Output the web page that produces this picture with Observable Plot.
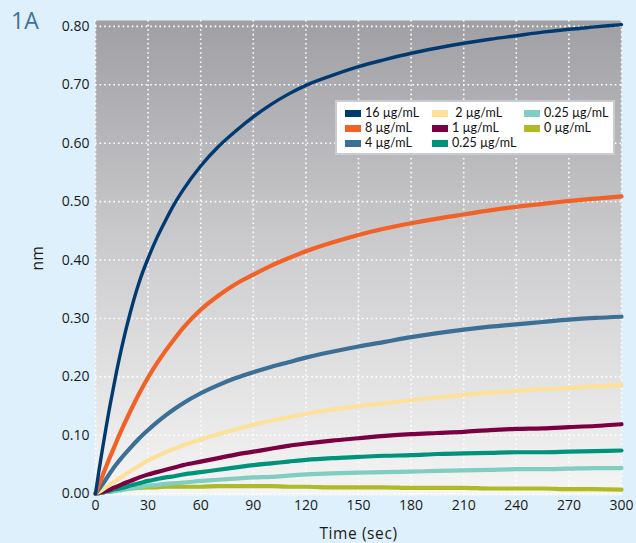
<!DOCTYPE html>
<html>
<head>
<meta charset="utf-8">
<script src="https://cdn.jsdelivr.net/npm/d3@7"></script>
<script src="https://cdn.jsdelivr.net/npm/@observablehq/plot@0.6"></script>
<style>
  html, body { margin: 0; padding: 0; background: #def0fb; }
  #wrap { position: relative; width: 636px; height: 543px; overflow: hidden; font-family: "Open Sans", sans-serif; }
  #tag { position: absolute; left: 11px; top: 4px; font-size: 23px; color: #3f7297; }
  #legend { position: absolute; left: 335px; top: 100px; width: 276px; height: 51px; background: #fff; border: 2px solid #c9cdd1; font-family: Lato, "Open Sans", sans-serif; font-size: 12.5px; color: #111; }
  .item { position: absolute; display: flex; align-items: center; white-space: nowrap; height: 14px; line-height: 14px; }
  .sw { display: inline-block; width: 16px; height: 7px; margin-right: 4px; }
</style>
</head>
<body>
<div id="wrap">
  <div id="chart"></div>
  <div id="tag">1A</div>
  <div id="legend"></div>
</div>
<script>
// Time points (sec)
const time = [0,2,4,6,8,10,12,15,20,25,30,35,40,45,50,60,70,80,90,100,110,120,135,150,165,180,195,210,225,240,255,270,285,300];
// Response (nm) for each concentration
const c16  = [0,0.040,0.077,0.113,0.147,0.178,0.209,0.251,0.312,0.363,0.403,0.438,0.468,0.496,0.520,0.561,0.594,0.621,0.645,0.666,0.684,0.699,0.716,0.731,0.743,0.754,0.763,0.771,0.778,0.784,0.790,0.795,0.799,0.803];
const c8   = [0,0.0155,0.031,0.046,0.061,0.075,0.0895,0.110,0.142,0.172,0.199,0.223,0.245,0.265,0.284,0.315,0.339,0.359,0.375,0.390,0.403,0.415,0.430,0.443,0.454,0.463,0.471,0.478,0.485,0.491,0.496,0.501,0.505,0.509];
const c4   = [0,0.008,0.016,0.025,0.034,0.043,0.051,0.062,0.079,0.095,0.109,0.122,0.134,0.145,0.155,0.172,0.186,0.198,0.208,0.217,0.225,0.233,0.243,0.252,0.260,0.268,0.275,0.281,0.286,0.290,0.294,0.298,0.301,0.303];
const c2   = [0,0.003,0.007,0.011,0.015,0.019,0.023,0.029,0.039,0.048,0.057,0.064,0.071,0.077,0.083,0.093,0.102,0.110,0.118,0.125,0.131,0.137,0.144,0.150,0.155,0.160,0.165,0.169,0.173,0.176,0.179,0.181,0.184,0.186];
const c1   = [0,0.002,0.003,0.005,0.007,0.010,0.012,0.016,0.022,0.028,0.033,0.037,0.041,0.045,0.049,0.055,0.061,0.067,0.072,0.077,0.082,0.086,0.091,0.095,0.099,0.102,0.104,0.106,0.109,0.111,0.112,0.114,0.116,0.119];
const c025a= [0,0.001,0.002,0.004,0.005,0.007,0.008,0.010,0.014,0.018,0.022,0.025,0.028,0.030,0.033,0.037,0.041,0.045,0.049,0.052,0.055,0.058,0.061,0.063,0.065,0.066,0.068,0.069,0.070,0.071,0.071,0.072,0.073,0.074];
const c025b= [0,0.001,0.002,0.003,0.003,0.004,0.005,0.006,0.009,0.011,0.014,0.015,0.017,0.018,0.019,0.022,0.024,0.026,0.028,0.029,0.031,0.033,0.035,0.036,0.037,0.038,0.039,0.040,0.041,0.042,0.042,0.043,0.044,0.044];
const c0   = [0,0.001,0.002,0.004,0.005,0.006,0.007,0.008,0.009,0.010,0.011,0.011,0.012,0.012,0.012,0.012,0.013,0.013,0.013,0.013,0.012,0.012,0.011,0.011,0.011,0.010,0.010,0.010,0.009,0.009,0.009,0.008,0.008,0.007];

const seriesNames  = ["16 µg/mL","8 µg/mL","4 µg/mL","2 µg/mL","1 µg/mL","0.25 µg/mL","0.25 µg/mL ","0 µg/mL"];
const seriesValues = [c16, c8, c4, c2, c1, c025a, c025b, c0];
const seriesColors = ["#003a70","#f26125","#3b6f96","#fde09a","#7b0041","#00937b","#80cdc1","#aebb22"];
const xTicks = [0,30,60,90,120,150,180,210,240,270,300];
const yTicks = [0,0.1,0.2,0.3,0.4,0.5,0.6,0.7,0.8];

const rows = [];
seriesNames.forEach((name, k) => {
  time.forEach((t, i) => rows.push({t, v: seriesValues[k][i], s: name, k}));
});

const lineMarks = seriesNames.slice().reverse().map(name =>
  Plot.line(rows.filter(r => r.s === name), {
    x: "t", y: "v", stroke: seriesColors[seriesNames.indexOf(name)],
    strokeWidth: name === "16 µg/mL" ? 3.4 : 4.2, curve: "monotone-x", strokeLinejoin: "round"
  })
);

const chart = Plot.plot({
  width: 636, height: 543,
  marginLeft: 95, marginRight: 15, marginTop: 20, marginBottom: 48,
  style: { background: "transparent", fontFamily: "Open Sans, sans-serif", fontSize: "14px", color: "#1a1a1a" },
  x: { domain: [0, 300], ticks: xTicks, tickFormat: d => String(d), tickSize: 0, tickPadding: 5,
       label: "Time (sec)", labelAnchor: "center", labelOffset: 43 },
  y: { domain: [-0.003, 0.81], ticks: yTicks, tickFormat: d3.format(".2f"), tickSize: 0, tickPadding: 6,
       label: "nm", labelAnchor: "center", labelOffset: 64 },
  marks: [
    Plot.frame({ fill: "#cccccc", stroke: "none" }),
    Plot.ruleY(yTicks, { stroke: "white", strokeWidth: 1.6, strokeDasharray: "1.6,3" }),
    Plot.ruleX(xTicks, { stroke: "white", strokeWidth: 1.6, strokeDasharray: "1.6,3" }),
    ...lineMarks
  ]
});

// gradient background for the plot area
const svg = chart.tagName.toLowerCase() === "svg" ? chart : chart.querySelector("svg");
const ns = "http://www.w3.org/2000/svg";
const defs = document.createElementNS(ns, "defs");
const lg = document.createElementNS(ns, "linearGradient");
lg.setAttribute("id", "bg"); lg.setAttribute("x1", "0"); lg.setAttribute("y1", "0"); lg.setAttribute("x2", "0"); lg.setAttribute("y2", "1");
[["0%", "#a09fa4"], ["55%", "#d2d2d4"], ["100%", "#f5f5f5"]].forEach(([o, c]) => {
  const st = document.createElementNS(ns, "stop"); st.setAttribute("offset", o); st.setAttribute("stop-color", c); lg.appendChild(st);
});
defs.appendChild(lg); svg.insertBefore(defs, svg.firstChild);
const f = svg.querySelector('[aria-label="frame"]');
if (f) { const r = f.tagName.toLowerCase() === "rect" ? f : f.querySelector("rect"); if (r) r.setAttribute("fill", "url(#bg)"); }
svg.querySelectorAll('[aria-label="x-axis label"], [aria-label="y-axis label"]').forEach(g => {
  g.style.fontSize = "15.5px"; g.style.letterSpacing = "0.6px";
  g.querySelectorAll("text, tspan").forEach(t => {
    if (t.childNodes.length === 1 && t.firstChild.nodeType === 3) {
      t.textContent = t.textContent.replace(/\s*[→↑←↓]\s*/g, "").trim();
    }
  });
});

document.getElementById("chart").appendChild(chart);

// legend
const legendPos = [
  [8, 4], [8, 19], [8, 34],
  [95, 4], [95, 19], [95, 34],
  [187, 4], [187, 19]
];
const legendLabels = ["16 µg/mL","8 µg/mL","4 µg/mL"," 2 µg/mL","1 µg/mL","0.25 µg/mL","0.25 µg/mL","0 µg/mL"];
const leg = document.getElementById("legend");
legendLabels.forEach((label, k) => {
  const d = document.createElement("div");
  d.className = "item";
  d.style.left = legendPos[k][0] + "px"; d.style.top = legendPos[k][1] + "px";
  const sw = document.createElement("span"); sw.className = "sw"; sw.style.background = seriesColors[k];
  const tx = document.createElement("span"); tx.textContent = label; tx.style.whiteSpace = "pre";
  d.appendChild(sw); d.appendChild(tx); leg.appendChild(d);
});
</script>
</body>
</html>
